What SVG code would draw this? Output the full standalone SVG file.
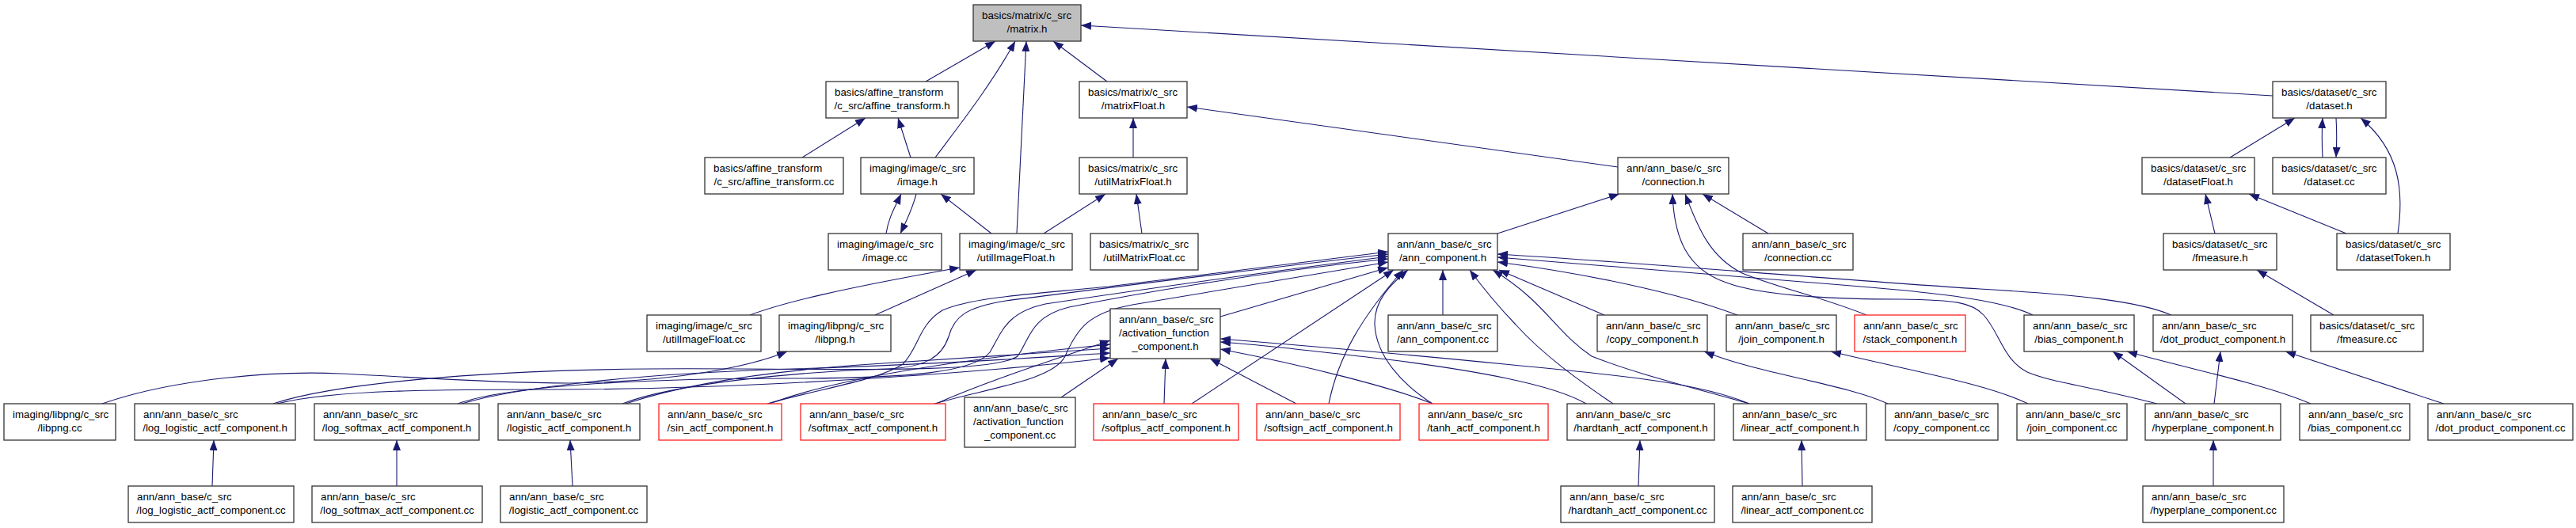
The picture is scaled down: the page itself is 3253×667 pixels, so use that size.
<svg xmlns="http://www.w3.org/2000/svg" width="3253" height="667" viewBox="0 0 3253 667">
<style>
.node rect{fill:#fff;stroke:#333;stroke-width:1.3}
.node.red rect{stroke:#ff2020}
.node.root rect{fill:#bfbfbf}
text{font-family:"Liberation Sans",Arial,sans-serif;font-size:13.3px;fill:#000}
.m{text-anchor:middle}
#edges path{fill:none;stroke:#191970;stroke-width:1.1;marker-end:url(#arr)}
</style>
<defs>
<marker id="arr" markerUnits="userSpaceOnUse" markerWidth="13" markerHeight="10" refX="13" refY="5" orient="auto"><path d="M0,0 L13,5 L0,10 z" fill="#191970"/></marker>
</defs>
<rect x="0" y="0" width="3253" height="667" fill="#fff"/>
<g id="edges">
<path d="M1169,103 L1257,52"/>
<path d="M1181,199 C1210,160 1250,110 1282,52"/>
<path d="M1284,295 L1296,52"/>
<path d="M1398,103 L1330,52"/>
<path d="M2870,121 L1365,32"/>
<path d="M1013,199 L1093,149"/>
<path d="M1150,199 L1134,149"/>
<path d="M1431,199 L1431,149"/>
<path d="M2043,211 L1499,135"/>
<path d="M1119,295 C1122,275 1130,262 1138,245"/>
<path d="M1157,245 C1152,265 1145,278 1137,295"/>
<path d="M1252,295 L1188,245"/>
<path d="M1318,295 L1396,245"/>
<path d="M1442,295 L1435,245"/>
<path d="M1891,295 L2045,245"/>
<path d="M2233,295 L2150,245"/>
<path d="M2357,398 C2300,375 2240,362 2200,345 C2160,325 2145,290 2128,245"/>
<path d="M2724,510 C2640,488 2590,483 2560,470 C2530,455 2525,420 2505,398 C2490,382 2470,379 2400,378 C2300,378 2220,372 2180,357 C2130,340 2114,300 2112,245"/>
<path d="M2816,199 L2898,149"/>
<path d="M2933,199 C2932,180 2932,165 2933,149"/>
<path d="M2950,149 C2951,165 2951,180 2950,199"/>
<path d="M3028,295 C3036,240 3030,190 2981,149"/>
<path d="M2797,295 L2785,245"/>
<path d="M2963,295 L2840,245"/>
<path d="M2947,398 L2850,341"/>
<path d="M947,398 C990,382 1060,365 1212,338"/>
<path d="M1105,398 L1233,341"/>
<path d="M129,510 C220,478 350,468 430,472 C520,476 610,484 720,484 C860,482 950,462 994,444"/>
<path d="M268,614 L270,556"/>
<path d="M501,614 L501,556"/>
<path d="M723,614 L720,556"/>
<path d="M2069,614 L2071,556"/>
<path d="M2276,614 L2275,556"/>
<path d="M2795,614 L2795,556"/>
<path d="M2760,510 L2668,444"/>
<path d="M2796,510 L2804,444"/>
<path d="M2918,510 C2860,485 2760,465 2686,444"/>
<path d="M3086,510 L2886,444"/>
<path d="M2384,510 C2330,485 2220,472 2152,444"/>
<path d="M2561,510 C2510,485 2420,470 2312,444"/>
<path d="M1340,502 L1412,453"/>
<path d="M1470,510 L1472,453"/>
<path d="M1637,510 L1528,453"/>
<path d="M1809,510 C1760,490 1650,462 1541,441"/>
<path d="M2003,510 C1960,485 1860,468 1760,455 C1680,446 1600,436 1541,432"/>
<path d="M2209,510 C2150,485 2060,475 1900,460 C1780,448 1640,436 1541,428"/>
<path d="M350,510 C420,492 560,492 700,492 C950,492 1250,470 1402,452"/>
<path d="M583,510 C650,490 800,472 1000,466 C1200,460 1330,450 1402,446"/>
<path d="M790,510 C850,490 950,470 1100,460 C1250,450 1350,443 1402,440"/>
<path d="M972,510 C1050,480 1200,455 1402,435"/>
<path d="M1182,510 C1250,480 1330,455 1402,430"/>
<path d="M1541,400 L1753,338"/>
<path d="M1822,398 L1822,341"/>
<path d="M2026,398 L1893,341"/>
<path d="M2194,398 C2120,370 2000,345 1891,331"/>
<path d="M2567,398 C2530,380 2450,370 2350,362 C2200,350 2000,333 1891,325"/>
<path d="M2742,398 C2700,380 2620,372 2500,365 C2300,352 2050,330 1891,321"/>
<path d="M1505,510 L1760,341"/>
<path d="M1678,510 C1690,450 1720,400 1772,341"/>
<path d="M1809,510 C1770,485 1738,450 1736,410 C1735,380 1755,360 1778,341"/>
<path d="M2037,510 C2000,485 1950,450 1914,410 C1890,385 1870,360 1856,341"/>
<path d="M2209,510 C2120,485 2060,470 2010,450 C1965,420 1950,380 1885,341"/>
<path d="M969,510 C1040,490 1110,480 1140,460 C1160,440 1160,410 1190,392 C1230,375 1300,372 1400,362 L1753,318"/>
<path d="M786,510 C850,485 1000,470 1120,466 C1170,464 1190,450 1198,425 C1205,400 1220,388 1270,380 C1350,370 1500,350 1753,321"/>
<path d="M578,510 C640,488 800,478 1000,478 C1150,478 1230,470 1250,445 C1265,420 1270,395 1320,384 C1400,372 1550,350 1753,324"/>
<path d="M345,510 C420,485 600,468 820,466 C1000,464 1250,475 1285,450 C1300,430 1300,400 1350,388 C1420,374 1580,345 1753,327"/>
<path d="M1180,510 C1250,490 1330,480 1345,450 C1360,415 1375,395 1430,385 L1753,331"/>
</g>
<g id="n_matrix_h" class="node root"><rect x="1229" y="6" width="136" height="46"/><text x="1240" y="23.5">basics/matrix/c_src</text><text class="m" x="1297" y="40.5">/matrix.h</text></g>
<g id="n_affine_transform_h" class="node"><rect x="1043" y="103" width="167" height="46"/><text x="1054" y="120.5">basics/affine_transform</text><text class="m" x="1126.5" y="137.5">/c_src/affine_transform.h</text></g>
<g id="n_matrixFloat_h" class="node"><rect x="1363" y="103" width="136" height="46"/><text x="1374" y="120.5">basics/matrix/c_src</text><text class="m" x="1431" y="137.5">/matrixFloat.h</text></g>
<g id="n_dataset_h" class="node"><rect x="2870" y="103" width="143" height="46"/><text x="2881" y="120.5">basics/dataset/c_src</text><text class="m" x="2941.5" y="137.5">/dataset.h</text></g>
<g id="n_affine_transform_cc" class="node"><rect x="890" y="199" width="175" height="46"/><text x="901" y="216.5">basics/affine_transform</text><text class="m" x="977.5" y="233.5">/c_src/affine_transform.cc</text></g>
<g id="n_image_h" class="node"><rect x="1087" y="199" width="143" height="46"/><text x="1098" y="216.5">imaging/image/c_src</text><text class="m" x="1158.5" y="233.5">/image.h</text></g>
<g id="n_utilMatrixFloat_h" class="node"><rect x="1363" y="199" width="136" height="46"/><text x="1374" y="216.5">basics/matrix/c_src</text><text class="m" x="1431" y="233.5">/utilMatrixFloat.h</text></g>
<g id="n_connection_h" class="node"><rect x="2043" y="199" width="140" height="46"/><text x="2054" y="216.5">ann/ann_base/c_src</text><text class="m" x="2113" y="233.5">/connection.h</text></g>
<g id="n_datasetFloat_h" class="node"><rect x="2705" y="199" width="142" height="46"/><text x="2716" y="216.5">basics/dataset/c_src</text><text class="m" x="2776" y="233.5">/datasetFloat.h</text></g>
<g id="n_dataset_cc" class="node"><rect x="2870" y="199" width="143" height="46"/><text x="2881" y="216.5">basics/dataset/c_src</text><text class="m" x="2941.5" y="233.5">/dataset.cc</text></g>
<g id="n_image_cc" class="node"><rect x="1046" y="295" width="143" height="46"/><text x="1057" y="312.5">imaging/image/c_src</text><text class="m" x="1117.5" y="329.5">/image.cc</text></g>
<g id="n_utilImageFloat_h" class="node"><rect x="1212" y="295" width="142" height="46"/><text x="1223" y="312.5">imaging/image/c_src</text><text class="m" x="1283" y="329.5">/utilImageFloat.h</text></g>
<g id="n_utilMatrixFloat_cc" class="node"><rect x="1377" y="295" width="136" height="46"/><text x="1388" y="312.5">basics/matrix/c_src</text><text class="m" x="1445" y="329.5">/utilMatrixFloat.cc</text></g>
<g id="n_ann_component_h" class="node"><rect x="1753" y="295" width="138" height="46"/><text x="1764" y="312.5">ann/ann_base/c_src</text><text class="m" x="1822" y="329.5">/ann_component.h</text></g>
<g id="n_connection_cc" class="node"><rect x="2201" y="295" width="139" height="46"/><text x="2212" y="312.5">ann/ann_base/c_src</text><text class="m" x="2270.5" y="329.5">/connection.cc</text></g>
<g id="n_fmeasure_h" class="node"><rect x="2732" y="295" width="143" height="46"/><text x="2743" y="312.5">basics/dataset/c_src</text><text class="m" x="2803.5" y="329.5">/fmeasure.h</text></g>
<g id="n_datasetToken_h" class="node"><rect x="2951" y="295" width="143" height="46"/><text x="2962" y="312.5">basics/dataset/c_src</text><text class="m" x="3022.5" y="329.5">/datasetToken.h</text></g>
<g id="n_utilImageFloat_cc" class="node"><rect x="817" y="398" width="144" height="46"/><text x="828" y="415.5">imaging/image/c_src</text><text class="m" x="889" y="432.5">/utilImageFloat.cc</text></g>
<g id="n_libpng_h" class="node"><rect x="984" y="398" width="141" height="46"/><text x="995" y="415.5">imaging/libpng/c_src</text><text class="m" x="1054.5" y="432.5">/libpng.h</text></g>
<g id="n_activation_function_component_h" class="node"><rect x="1402" y="390" width="139" height="63"/><text x="1413" y="407.5">ann/ann_base/c_src</text><text x="1413" y="424.5">/activation_function</text><text class="m" x="1471.5" y="441.5">_component.h</text></g>
<g id="n_ann_component_cc" class="node"><rect x="1753" y="398" width="138" height="46"/><text x="1764" y="415.5">ann/ann_base/c_src</text><text class="m" x="1822" y="432.5">/ann_component.cc</text></g>
<g id="n_copy_component_h" class="node"><rect x="2017" y="398" width="139" height="46"/><text x="2028" y="415.5">ann/ann_base/c_src</text><text class="m" x="2086.5" y="432.5">/copy_component.h</text></g>
<g id="n_join_component_h" class="node"><rect x="2180" y="398" width="139" height="46"/><text x="2191" y="415.5">ann/ann_base/c_src</text><text class="m" x="2249.5" y="432.5">/join_component.h</text></g>
<g id="n_stack_component_h" class="node red"><rect x="2342" y="398" width="140" height="46"/><text x="2353" y="415.5">ann/ann_base/c_src</text><text class="m" x="2412" y="432.5">/stack_component.h</text></g>
<g id="n_bias_component_h" class="node"><rect x="2556" y="398" width="139" height="46"/><text x="2567" y="415.5">ann/ann_base/c_src</text><text class="m" x="2625.5" y="432.5">/bias_component.h</text></g>
<g id="n_dot_product_component_h" class="node"><rect x="2719" y="398" width="176" height="46"/><text x="2730" y="415.5">ann/ann_base/c_src</text><text class="m" x="2807" y="432.5">/dot_product_component.h</text></g>
<g id="n_fmeasure_cc" class="node"><rect x="2918" y="398" width="142" height="46"/><text x="2929" y="415.5">basics/dataset/c_src</text><text class="m" x="2989" y="432.5">/fmeasure.cc</text></g>
<g id="n_libpng_cc" class="node"><rect x="5" y="510" width="141" height="46"/><text x="16" y="527.5">imaging/libpng/c_src</text><text class="m" x="75.5" y="544.5">/libpng.cc</text></g>
<g id="n_log_logistic_actf_component_h" class="node"><rect x="170" y="510" width="203" height="46"/><text x="181" y="527.5">ann/ann_base/c_src</text><text class="m" x="271.5" y="544.5">/log_logistic_actf_component.h</text></g>
<g id="n_log_softmax_actf_component_h" class="node"><rect x="397" y="510" width="208" height="46"/><text x="408" y="527.5">ann/ann_base/c_src</text><text class="m" x="501" y="544.5">/log_softmax_actf_component.h</text></g>
<g id="n_logistic_actf_component_h" class="node"><rect x="629" y="510" width="179" height="46"/><text x="640" y="527.5">ann/ann_base/c_src</text><text class="m" x="718.5" y="544.5">/logistic_actf_component.h</text></g>
<g id="n_sin_actf_component_h" class="node red"><rect x="832" y="510" width="155" height="46"/><text x="843" y="527.5">ann/ann_base/c_src</text><text class="m" x="909.5" y="544.5">/sin_actf_component.h</text></g>
<g id="n_softmax_actf_component_h" class="node red"><rect x="1011" y="510" width="183" height="46"/><text x="1022" y="527.5">ann/ann_base/c_src</text><text class="m" x="1102.5" y="544.5">/softmax_actf_component.h</text></g>
<g id="n_activation_function_component_cc" class="node"><rect x="1218" y="502" width="140" height="63"/><text x="1229" y="519.5">ann/ann_base/c_src</text><text x="1229" y="536.5">/activation_function</text><text class="m" x="1288" y="553.5">_component.cc</text></g>
<g id="n_softplus_actf_component_h" class="node red"><rect x="1381" y="510" width="183" height="46"/><text x="1392" y="527.5">ann/ann_base/c_src</text><text class="m" x="1472.5" y="544.5">/softplus_actf_component.h</text></g>
<g id="n_softsign_actf_component_h" class="node red"><rect x="1587" y="510" width="181" height="46"/><text x="1598" y="527.5">ann/ann_base/c_src</text><text class="m" x="1677.5" y="544.5">/softsign_actf_component.h</text></g>
<g id="n_tanh_actf_component_h" class="node red"><rect x="1792" y="510" width="163" height="46"/><text x="1803" y="527.5">ann/ann_base/c_src</text><text class="m" x="1873.5" y="544.5">/tanh_actf_component.h</text></g>
<g id="n_hardtanh_actf_component_h" class="node"><rect x="1979" y="510" width="186" height="46"/><text x="1990" y="527.5">ann/ann_base/c_src</text><text class="m" x="2072" y="544.5">/hardtanh_actf_component.h</text></g>
<g id="n_linear_actf_component_h" class="node"><rect x="2189" y="510" width="168" height="46"/><text x="2200" y="527.5">ann/ann_base/c_src</text><text class="m" x="2273" y="544.5">/linear_actf_component.h</text></g>
<g id="n_copy_component_cc" class="node"><rect x="2381" y="510" width="142" height="46"/><text x="2392" y="527.5">ann/ann_base/c_src</text><text class="m" x="2452" y="544.5">/copy_component.cc</text></g>
<g id="n_join_component_cc" class="node"><rect x="2547" y="510" width="139" height="46"/><text x="2558" y="527.5">ann/ann_base/c_src</text><text class="m" x="2616.5" y="544.5">/join_component.cc</text></g>
<g id="n_hyperplane_component_h" class="node"><rect x="2709" y="510" width="171" height="46"/><text x="2720" y="527.5">ann/ann_base/c_src</text><text class="m" x="2794.5" y="544.5">/hyperplane_component.h</text></g>
<g id="n_bias_component_cc" class="node"><rect x="2904" y="510" width="139" height="46"/><text x="2915" y="527.5">ann/ann_base/c_src</text><text class="m" x="2973.5" y="544.5">/bias_component.cc</text></g>
<g id="n_dot_product_component_cc" class="node"><rect x="3066" y="510" width="183" height="46"/><text x="3077" y="527.5">ann/ann_base/c_src</text><text class="m" x="3157.5" y="544.5">/dot_product_component.cc</text></g>
<g id="n_log_logistic_actf_component_cc" class="node"><rect x="162" y="614" width="209" height="46"/><text x="173" y="631.5">ann/ann_base/c_src</text><text class="m" x="266.5" y="648.5">/log_logistic_actf_component.cc</text></g>
<g id="n_log_softmax_actf_component_cc" class="node"><rect x="394" y="614" width="215" height="46"/><text x="405" y="631.5">ann/ann_base/c_src</text><text class="m" x="501.5" y="648.5">/log_softmax_actf_component.cc</text></g>
<g id="n_logistic_actf_component_cc" class="node"><rect x="632" y="614" width="185" height="46"/><text x="643" y="631.5">ann/ann_base/c_src</text><text class="m" x="724.5" y="648.5">/logistic_actf_component.cc</text></g>
<g id="n_hardtanh_actf_component_cc" class="node"><rect x="1971" y="614" width="194" height="46"/><text x="1982" y="631.5">ann/ann_base/c_src</text><text class="m" x="2068" y="648.5">/hardtanh_actf_component.cc</text></g>
<g id="n_linear_actf_component_cc" class="node"><rect x="2188" y="614" width="176" height="46"/><text x="2199" y="631.5">ann/ann_base/c_src</text><text class="m" x="2276" y="648.5">/linear_actf_component.cc</text></g>
<g id="n_hyperplane_component_cc" class="node"><rect x="2706" y="614" width="178" height="46"/><text x="2717" y="631.5">ann/ann_base/c_src</text><text class="m" x="2795" y="648.5">/hyperplane_component.cc</text></g>
</svg>
